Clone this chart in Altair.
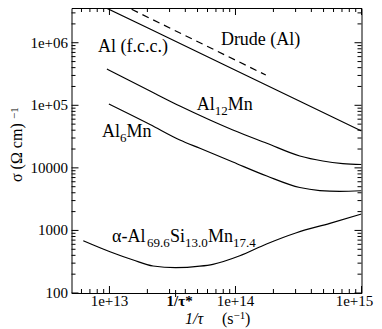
import altair as alt
import pandas as pd

# ---------------- data ----------------
al_fcc_x = [7.22e12, 2.10e13, 1.00e14, 3.24e14, 1.00e15]
al_fcc_y = [4.64e6, 1.66e6, 3.64e5, 1.16e5, 3.88e4]

drude_x = [1.50e13, 1.74e14]
drude_y = [3.42e6, 3.05e5]

al12mn_x = [9.55e12, 2.10e13, 3.62e13, 6.27e13, 9.54e13, 1.774e14, 3.24e14, 4.93e14, 7.11e14, 1.00e15]
al12mn_y = [3.80e5, 1.69e5, 9.73e4, 5.82e4, 4.03e4, 2.47e4, 1.546e4, 1.286e4, 1.173e4, 1.131e4]

al6mn_x = [9.9e12, 2.10e13, 3.62e13, 5.22e13, 9.54e13, 1.774e14, 3.24e14, 4.67e14, 6.73e14, 1.00e15]
al6mn_y = [1.048e5, 4.93e4, 2.79e4, 2.053e4, 1.240e4, 7405, 4850, 4343, 4217, 4312]

alpha_x = [6.2e12, 1.01e13, 1.545e13, 2.22e13, 3.35e13, 5.22e13, 6.62e13, 1.083e14,
           1.764e14, 3.05e14, 5.61e14, 1.00e15]
alpha_y = [685, 457, 337, 270, 253.5, 268, 287, 393, 607, 919, 1299, 1829]

# axis ticks and tick labels
x_major = [1e13, 1e14, 1e15]
x_major_labels = ["1e+13", "1e+14", "1e+15"]
x_minor = [6e12, 7e12, 8e12, 9e12] + [k * 1e13 for k in range(2, 10)] + [k * 1e14 for k in range(2, 10)]
x_special = [3.35e13]
x_special_labels = ["1/τ*"]
y_major = [100, 1000, 10000, 100000, 1000000]
y_major_labels = ["100", "1000", "10000", "1e+05", "1e+06"]
y_minor = ([k * 100 for k in range(2, 10)] + [k * 1000 for k in range(2, 10)] +
           [k * 10000 for k in range(2, 10)] + [k * 100000 for k in range(2, 10)] +
           [2e6, 3e6])

# in-plot label anchors (data space)
label_ids = ["fcc", "drude", "al12", "al6", "alpha"]
label_x = [8.11e12, 7.66e13, 4.94e13, 8.72e12, 1.047e13]
label_y = [7.1e5, 9.19e5, 8.4e4, 3.11e4, 653]

# ---------------- styling ----------------
SERIF = "Liberation Serif"
W, H = 290, 285
XDOM = [5e12, 1e15]
YDOM = [100, 3.59e6]

xscale = alt.Scale(type="log", domain=XDOM, nice=False)
yscale = alt.Scale(type="log", domain=YDOM, nice=False)
XE = alt.X("x:Q", scale=xscale, axis=None)
YE = alt.Y("y:Q", scale=yscale, axis=None)


def line_df(xs, ys):
    return pd.DataFrame({"x": xs, "y": ys})


def curve(xs, ys, interp="monotone", dash=None):
    kw = dict(color="black", strokeWidth=1.2, clip=True, interpolate=interp)
    if dash:
        kw["strokeDash"] = dash
    return alt.Chart(line_df(xs, ys)).mark_line(**kw).encode(x=XE, y=YE)


layers = [
    curve(al_fcc_x, al_fcc_y, interp="linear"),
    curve(drude_x, drude_y, interp="linear", dash=[7, 5]),
    curve(al12mn_x, al12mn_y),
    curve(al6mn_x, al6mn_y),
    curve(alpha_x, alpha_y),
]


# inward ticks on all four sides
def xticks(vals, length):
    df = pd.DataFrame({"v": vals})
    enc_x = alt.X("v:Q", scale=xscale, axis=None)
    bottom = alt.Chart(df).mark_rule(color="black", strokeWidth=1).encode(
        x=enc_x, y=alt.value(H), y2=alt.value(H - length))
    top = alt.Chart(df).mark_rule(color="black", strokeWidth=1).encode(
        x=enc_x, y=alt.value(0), y2=alt.value(length))
    return [bottom, top]


def yticks(vals, length):
    df = pd.DataFrame({"v": vals})
    enc_y = alt.Y("v:Q", scale=yscale, axis=None)
    left = alt.Chart(df).mark_rule(color="black", strokeWidth=1).encode(
        y=enc_y, x=alt.value(0), x2=alt.value(length))
    right = alt.Chart(df).mark_rule(color="black", strokeWidth=1).encode(
        y=enc_y, x=alt.value(W), x2=alt.value(W - length))
    return [left, right]


layers += xticks(x_major, 7) + xticks(x_minor, 4)
layers += yticks(y_major, 7) + yticks(y_minor, 4)
layers.append(
    alt.Chart(pd.DataFrame({"v": x_special})).mark_rule(color="black", strokeWidth=1).encode(
        x=alt.X("v:Q", scale=xscale, axis=None), y=alt.value(H - 3), y2=alt.value(H + 4))
)


# tick labels
def xlabel(vals, texts, dx=0, weight="normal"):
    return alt.Chart(pd.DataFrame({"v": vals, "t": texts})).mark_text(
        align="center", baseline="alphabetic", font=SERIF, fontSize=15, color="black",
        fontWeight=weight, dx=dx
    ).encode(x=alt.X("v:Q", scale=xscale, axis=None), y=alt.value(H + 13), text="t:N")


layers.append(xlabel(x_major[:2], x_major_labels[:2]))
layers.append(xlabel(x_major[2:], x_major_labels[2:], dx=-7))
layers.append(xlabel(x_special, x_special_labels, dx=4, weight="bold"))
layers.append(
    alt.Chart(pd.DataFrame({"v": y_major, "t": y_major_labels})).mark_text(
        align="right", baseline="middle", font=SERIF, fontSize=15, color="black"
    ).encode(y=alt.Y("v:Q", scale=yscale, axis=None), x=alt.value(-3.5), text="t:N")
)

# in-plot labels, built of pieces (main text + subscripts)
anchors = pd.DataFrame({"id": label_ids, "x": label_x, "y": label_y})
pieces = [
    ("fcc", "Al (f.c.c.)", 0, False),
    ("drude", "Drude (Al)", 0, False),
    ("al12", "Al", 0, False), ("al12", "12", 18, True), ("al12", "Mn", 31, False),
    ("al6", "Al", 0, False), ("al6", "6", 18, True), ("al6", "Mn", 24.5, False),
    ("alpha", "α-Al", 0, False), ("alpha", "69.6", 35, True), ("alpha", "Si", 58, False),
    ("alpha", "13.0", 73, True), ("alpha", "Mn", 96, False), ("alpha", "17.4", 121, True),
]
for lid, txt, dx, sub in pieces:
    row = anchors[anchors["id"] == lid].assign(t=txt)
    layers.append(
        alt.Chart(row).mark_text(
            align="left", baseline="alphabetic", font=SERIF, color="black",
            fontSize=13 if sub else 18, dx=dx, dy=5 if sub else 0,
        ).encode(x=XE, y=YE, text="t:N")
    )

# axis titles
one = pd.DataFrame({"a": [0]})


def title_text(txt, x, y, size=16, angle=0, style="normal", align="left"):
    kw = dict(align=align, baseline="alphabetic", font=SERIF, color="black",
              fontSize=size, fontStyle=style)
    if angle:
        kw["angle"] = angle
    return alt.Chart(one).mark_text(text=txt, **kw).encode(x=alt.value(x), y=alt.value(y))


layers.append(title_text("1/τ", 113.5, 316, style="italic"))
layers.append(title_text("(s", 150.5, 316))
layers.append(title_text("−1", 162, 311, size=11))
layers.append(title_text(")", 173.5, 316))
layers.append(title_text("σ  (Ω cm)", -49.5, 174, angle=270))
layers.append(title_text("−1", -54, 111, size=11, angle=270))

chart = alt.layer(*layers).properties(
    width=W, height=H,
    autosize=alt.AutoSizeParams(type="none"),
    padding={"left": 63.5, "top": 0, "right": 12, "bottom": 35},
).configure_view(stroke="black", strokeWidth=1)

chart.save("out.html", embed_options={"renderer": "svg", "actions": False})
